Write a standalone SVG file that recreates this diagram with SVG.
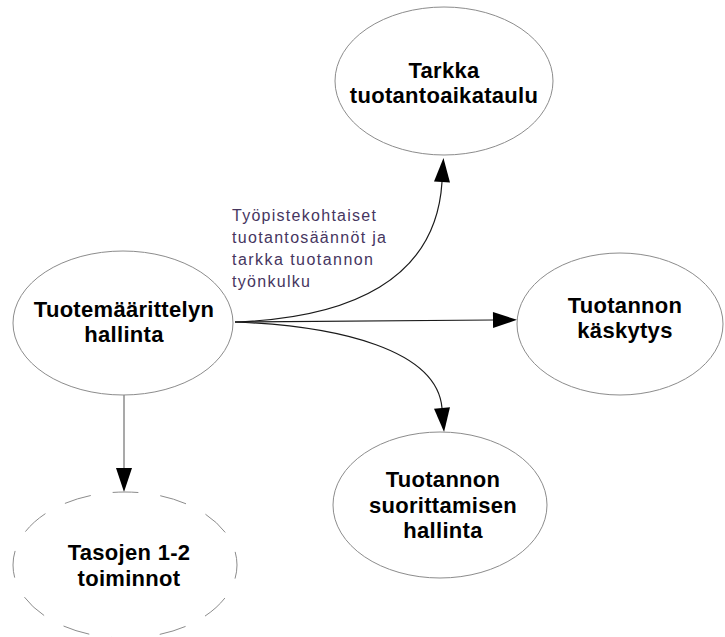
<svg xmlns="http://www.w3.org/2000/svg" width="725" height="637" viewBox="0 0 725 637">
  <defs>
    <marker id="arrow" markerUnits="userSpaceOnUse" markerWidth="24" markerHeight="16" refX="0" refY="8" orient="auto" overflow="visible">
      <path d="M0,0 L24,8 L0,16 z" fill="#000"/>
    </marker>
    <style>
      .node { fill: #fff; stroke: #8c8c8c; stroke-width: 1; }
      .dashed { fill: none; stroke: #8c8c8c; stroke-width: 1; stroke-dasharray: 27 22; stroke-dashoffset: 13.5; }
      .title { font-family: "Liberation Sans", Arial, sans-serif; font-weight: bold; font-size: 22px; letter-spacing: 0.3px; fill: #000; text-anchor: middle; }
      .label { font-family: "Liberation Sans", Arial, sans-serif; font-size: 16px; fill: #46365f; }
      .edge { fill: none; stroke: #1a1a1a; stroke-width: 1.2; marker-end: url(#arrow); }
      .edge-grey { fill: none; stroke: #8c8c8c; stroke-width: 1.5; marker-end: url(#arrow); }
    </style>
  </defs>
  <rect width="725" height="637" fill="#fff"/>

  <g id="connectors">
    <path class="edge" d="M235,322 C350,318 436,280 442,182"/>
    <path class="edge" d="M235,322 L493,320"/>
    <path class="edge" d="M235,322 C340,326 437,350 442,408"/>
    <path class="edge-grey" d="M124,395 L124,468"/>
    <text class="label" x="232" y="221" textLength="144" lengthAdjust="spacing">Työpistekohtaiset</text>
    <text class="label" x="232" y="243" textLength="154" lengthAdjust="spacing">tuotantosäännöt ja</text>
    <text class="label" x="232" y="265" textLength="141" lengthAdjust="spacing">tarkka tuotannon</text>
    <text class="label" x="232" y="287" textLength="78" lengthAdjust="spacing">työnkulku</text>
  </g>

  <g id="node-tuotemaarittely">
    <ellipse class="node" cx="123" cy="323" rx="110" ry="72"/>
    <text class="title" x="124" y="317">Tuotemäärittelyn</text>
    <text class="title" x="124" y="342">hallinta</text>
  </g>

  <g id="node-aikataulu">
    <ellipse class="node" cx="444" cy="81" rx="109" ry="74"/>
    <text class="title" x="444" y="78">Tarkka</text>
    <text class="title" x="444" y="103">tuotantoaikataulu</text>
  </g>

  <g id="node-kaskytys">
    <ellipse class="node" cx="620" cy="324" rx="103" ry="71"/>
    <text class="title" x="625" y="313">Tuotannon</text>
    <text class="title" x="625" y="338">käskytys</text>
  </g>

  <g id="node-suorittaminen">
    <ellipse class="node" cx="440" cy="505" rx="107" ry="73"/>
    <text class="title" x="443" y="487">Tuotannon</text>
    <text class="title" x="443" y="513">suorittamisen</text>
    <text class="title" x="443" y="538">hallinta</text>
  </g>

  <g id="node-tasojen">
    <path class="dashed" d="M125,492 A112,73 0 1 1 125,638 A112,73 0 1 1 125,492"/>
    <text class="title" x="129" y="560">Tasojen 1-2</text>
    <text class="title" x="129" y="586">toiminnot</text>
  </g>
</svg>
